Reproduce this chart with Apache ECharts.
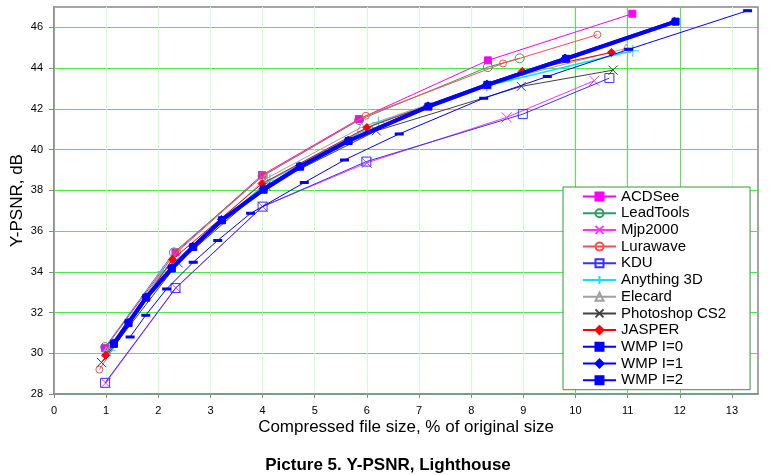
<!DOCTYPE html>
<html>
<head>
<meta charset="utf-8">
<script src="https://cdn.jsdelivr.net/npm/echarts@6/dist/echarts.min.js"></script>
<style>html,body{margin:0;padding:0;background:#fff;}#c{width:776px;height:475px;}</style>
</head>
<body>
<div id="c"></div>
<script>
const seriesNames = ['ACDSee','LeadTools','Mjp2000','Lurawave','KDU','Anything 3D','Elecard','Photoshop CS2','JASPER','WMP I=0','WMP I=1','WMP I=2'];
const xTicks = [0,1,2,3,4,5,6,7,8,9,10,11,12,13];
const yTicks = [28,30,32,34,36,38,40,42,44,46];
const brightX = [10,11,12];

const acdsee = [[0.98,30.25],[2.33,34.95],[3.99,38.75],[5.85,41.5],[8.32,44.38],[11.09,46.67]];
const leadtools = [[0.98,30.3],[2.3,34.95],[4.0,38.7],[5.85,41.45],[8.32,44.05],[8.93,44.48]];
const mjp2000 = [[0.99,28.54],[2.34,33.21],[4.0,37.2],[6.0,39.35],[8.68,41.58],[10.36,43.38]];
const lurawave = [[0.87,29.2],[2.36,34.97],[4.02,38.75],[5.98,41.66],[8.61,44.23],[10.42,45.64]];
const kdu = [[0.98,28.55],[2.33,33.2],[4.0,37.2],[5.99,39.41],[8.99,41.74],[10.65,43.51]];
const anything3d = [[1.07,30.15],[2.09,34.0],[4.14,38.5],[6.22,41.33],[8.3,43.13],[11.1,44.85]];
const elecard = [[1.0,30.1],[2.02,33.8],[4.05,38.55],[5.9,41.1],[8.3,43.2],[10.97,44.97]];
const photoshop = [[0.91,29.55],[2.38,34.44],[4.07,38.21],[6.18,40.92],[8.96,43.1],[10.72,43.9]];
const jasper = [[0.99,29.9],[2.27,34.6],[3.99,38.33],[6.0,41.08],[8.98,43.84],[10.69,44.77]];
const wmp0 = [[1.46,30.8],[1.76,31.87],[2.16,33.16],[2.67,34.47],[3.14,35.54],[3.77,36.87],[4.8,38.38],[5.57,39.49],[6.62,40.77],[8.24,42.52],[9.46,43.59],[11.02,44.92],[13.3,46.82]];
const wmp1 = [[1.14,30.51],[1.42,31.52],[1.76,32.77],[2.25,34.2],[2.66,35.26],[3.21,36.57],[4.01,38.08],[4.71,39.2],[5.64,40.46],[7.17,42.15],[8.3,43.21],[9.8,44.49],[11.9,46.3]];
const wmp2 = [[1.15,30.46],[1.43,31.48],[1.77,32.73],[2.26,34.16],[2.67,35.22],[3.22,36.53],[4.02,38.03],[4.72,39.16],[5.65,40.42],[7.18,42.11],[8.31,43.18],[9.82,44.46],[11.92,46.28]];

const seriesData = [acdsee, leadtools, mjp2000, lurawave, kdu, anything3d, elecard, photoshop, jasper, wmp0, wmp1, wmp2];

const X_PATH = 'path://M0 0L10 10M10 0L0 10';
const PLUS_PATH = 'path://M5 0L5 10M0 5L10 5';

const styles = [
  {color:'#FF00FF', symbol:'rect', size:7, width:1, fill:'#FF00FF'},
  {color:'#339966', symbol:'circle', size:9, width:1, fill:'none'},
  {color:'#FF33FF', symbol:X_PATH, size:10, width:1, fill:'none'},
  {color:'#FF4D4D', symbol:'circle', size:7, width:1, fill:'none'},
  {color:'#3333FF', symbol:'rect', size:9, width:1, fill:'none'},
  {color:'#00E5FF', symbol:PLUS_PATH, size:12, width:1.5, fill:'none'},
  {color:'#A0A0A0', symbol:'triangle', size:9, width:1, fill:'none'},
  {color:'#404040', symbol:X_PATH, size:9, width:1, fill:'none'},
  {color:'#FF0000', symbol:'diamond', size:8, width:1, fill:'#FF0000'},
  {color:'#0000FF', symbol:'rect', size:[6,2], width:1, fill:'#0000FF'},
  {color:'#0000FF', symbol:'diamond', size:8, width:2.5, fill:'#0000FF'},
  {color:'#0000FF', symbol:'rect', size:7, width:4, fill:'#0000FF'}
];

const FONT = 'Liberation Sans, Arial, sans-serif';

const series = seriesNames.map((name, i) => {
  const s = styles[i];
  return {
    name: name,
    type: 'line',
    data: seriesData[i],
    symbol: s.symbol,
    symbolSize: s.size,
    showAllSymbol: true,
    animation: false,
    lineStyle: {color: s.color, width: s.width},
    itemStyle: {color: s.fill === 'none' ? 'rgba(255,255,255,0)' : s.fill, borderColor: s.color, borderWidth: 1},
    emphasis: {disabled: true},
    z: 3 + i
  };
});

series.unshift({
  name: 'grid-major',
  type: 'line',
  data: [],
  silent: true,
  z: 1,
  markLine: {
    silent: true,
    z: 1,
    symbol: ['none', 'none'],
    label: {show: false},
    animation: false,
    emphasis: {disabled: true},
    lineStyle: {color: '#44EE44', type: 'solid', width: 1},
    data: brightX.map(v => ({xAxis: v}))
  }
});

const chart = echarts.init(document.getElementById('c'), null, {renderer: 'canvas'});
chart.setOption({
  backgroundColor: '#ffffff',
  animation: false,
  title: {
    text: 'Picture 5. Y-PSNR, Lighthouse',
    left: 'center',
    top: 457,
    padding: 0,
    textStyle: {fontFamily: FONT, fontSize: 17, fontWeight: 'bold', color: '#000'}
  },
  grid: {left: 54, right: 18, top: 7, bottom: 81, outerBoundsMode: 'none', containLabel: false,
    show: true, borderColor: '#888', borderWidth: 1.5, backgroundColor: 'transparent'},
  legend: {
    orient: 'vertical',
    left: 563,
    top: 187,
    z: 10,
    padding: [2, 24, 2, 19],
    backgroundColor: '#fff',
    borderColor: '#339933',
    borderWidth: 1,
    itemWidth: 33,
    itemHeight: 10,
    itemGap: 1.7,
    data: seriesNames,
    textStyle: {fontFamily: FONT, fontSize: 15, lineHeight: 14, color: '#000'},
    selectedMode: false
  },
  xAxis: {
    type: 'value',
    min: 0, max: 13.5, interval: 1,
    name: 'Compressed file size, % of original size',
    nameLocation: 'middle',
    nameGap: 25,
    nameMoveOverlap: false,
    nameTextStyle: {fontFamily: FONT, fontSize: 17, color: '#000'},
    axisLine: {show: true, lineStyle: {color: '#888', width: 1.5}},
    axisTick: {show: true, length: 4, lineStyle: {color: '#888'}, customValues: xTicks},
    axisLabel: {fontFamily: FONT, fontSize: 11, color: '#000', margin: 11, customValues: xTicks,
      formatter: v => (Number.isInteger(v) ? String(v) : '')},
    splitLine: {show: true, lineStyle: {color: '#CCFFCC', width: 1}}
  },
  yAxis: {
    type: 'value',
    min: 28, max: 47, interval: 2,
    name: 'Y-PSNR, dB',
    nameLocation: 'middle',
    nameGap: 28,
    nameMoveOverlap: false,
    nameTextStyle: {fontFamily: FONT, fontSize: 17, color: '#000'},
    axisLine: {show: true, lineStyle: {color: '#888', width: 1.5}},
    axisTick: {show: true, length: 5, lineStyle: {color: '#888'}, customValues: yTicks},
    axisLabel: {fontFamily: FONT, fontSize: 11, color: '#000', margin: 11, customValues: yTicks,
      formatter: v => (Number.isInteger(v) && v % 2 === 0 ? String(v) : '')},
    splitLine: {show: true, lineStyle: {color: '#44EE44', width: 1}}
  },
  series: series
});
</script>
</body>
</html>
